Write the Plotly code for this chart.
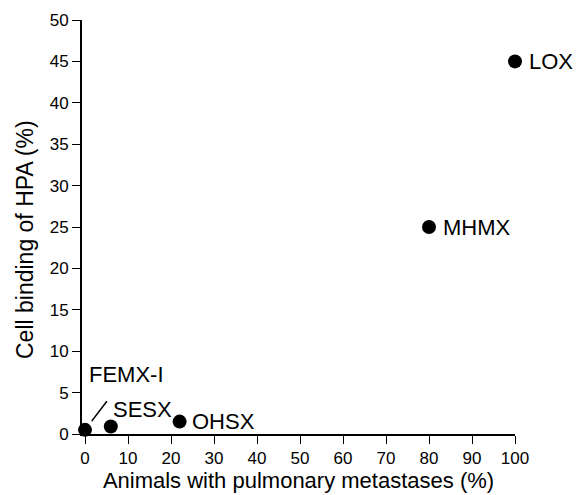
import plotly.graph_objects as go

names = ["FEMX-I", "SESX", "OHSX", "MHMX", "LOX"]
metastases = [0, 6, 22, 80, 100]
hpa_binding = [0.5, 0.9, 1.5, 25, 45]
x_ticks = [0, 10, 20, 30, 40, 50, 60, 70, 80, 90, 100]
y_ticks = [0, 5, 10, 15, 20, 25, 30, 35, 40, 45, 50]
x_title = "Animals with pulmonary metastases (%)"
y_title = "Cell binding of HPA (%)"

# label offsets in pixels (xshift, yshift)
label_offsets = {"FEMX-I": (2, 55), "SESX": (0, 17), "OHSX": (10, 0), "MHMX": (12, 0), "LOX": (12, 0)}

FONT = "Liberation Sans, Arial, sans-serif"

fig = go.Figure()
fig.add_trace(go.Scatter(
    x=metastases, y=hpa_binding, mode="markers",
    marker=dict(size=14, color="black"),
    cliponaxis=False, hoverinfo="text", text=names,
))

for n, xv, yv in zip(names, metastases, hpa_binding):
    dx, dy = label_offsets[n]
    fig.add_annotation(x=xv, y=yv, text=n, showarrow=False, xanchor="left",
                       yanchor="middle", xshift=dx, yshift=dy,
                       font=dict(size=22, color="black", family=FONT))

# connector line for FEMX-I label
fig.add_annotation(x=metastases[0], y=hpa_binding[0], text="", showarrow=True,
                   arrowhead=0, arrowwidth=1.6, arrowcolor="black",
                   ax=23, ay=-30, standoff=11, startstandoff=0)

# y-axis title as an annotation (sits slightly below the plot's middle)
fig.add_annotation(xref="paper", yref="paper", x=0, y=0.5, text=y_title,
                   showarrow=False, textangle=-90, xanchor="center", yanchor="middle",
                   xshift=-57, yshift=-13,
                   font=dict(size=23, color="black", family=FONT))

# page body has an 8px margin; size and margins compensate for it
fig.update_layout(
    width=574, height=487,
    margin=dict(l=74, r=67, t=12, b=61),
    paper_bgcolor="white", plot_bgcolor="white",
    showlegend=False,
    font=dict(family=FONT, color="black", size=17),
)
fig.update_xaxes(
    range=[-0.7, 100], tickvals=x_ticks, ticks="outside", ticklen=8,
    tickwidth=1.3, tickcolor="black", showline=True, linecolor="black",
    linewidth=2, showgrid=False, zeroline=False, automargin=False,
    tickfont=dict(size=17), title=dict(text=x_title, font=dict(size=22), standoff=4),
)
fig.update_yaxes(
    range=[0, 50], tickvals=y_ticks, ticks="outside", ticklen=8,
    tickwidth=1.3, tickcolor="black", showline=True, linecolor="black",
    linewidth=2, showgrid=False, zeroline=False, automargin=False,
    tickfont=dict(size=17),
)

fig.write_html("out.html")
